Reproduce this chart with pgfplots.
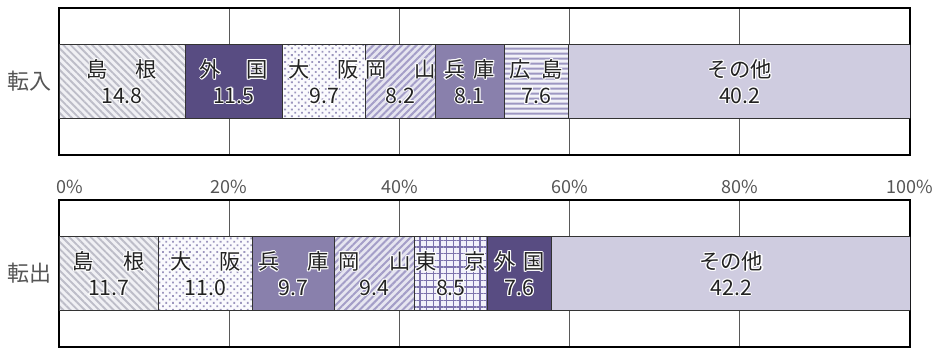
\documentclass[border=0pt]{standalone}
\usepackage{pgfplots}
\pgfplotsset{compat=1.18}
\usetikzlibrary{patterns.meta}
\usepackage{fontspec}
\setmainfont{Noto Sans CJK JP}
\definecolor{darkpur}{HTML}{584C82}
\definecolor{midpur}{HTML}{8980AC}
\definecolor{lightlav}{HTML}{CFCCE0}
\definecolor{hatchgray}{HTML}{BDBDC8}
\definecolor{dotcol}{HTML}{9C96BE}
\definecolor{okacol}{HTML}{A49EC8}
\definecolor{hirocol}{HTML}{9D97C2}
\definecolor{tokcol}{HTML}{7D74AD}
\definecolor{txt}{HTML}{222222}
\definecolor{ticktxt}{HTML}{555555}
\definecolor{bgshim}{HTML}{F0F0F4}
\definecolor{bgosa}{HTML}{FAFAFD}
\definecolor{bgoka}{HTML}{E6E5F0}
\definecolor{bghiro}{HTML}{F2F2F8}
\definecolor{bgtok}{HTML}{F2F2FA}
\newcommand\cp[3]{\rlap{\kern#1\raisebox{#2}{#3}}}
\newcommand\hl[1]{\leavevmode{\color{white}%
\cp{.8pt}{0pt}{#1}\cp{-.8pt}{0pt}{#1}\cp{0pt}{.8pt}{#1}\cp{0pt}{-.8pt}{#1}%
\cp{.55pt}{.55pt}{#1}\cp{-.55pt}{.55pt}{#1}\cp{.55pt}{-.55pt}{#1}\cp{-.55pt}{-.55pt}{#1}}%
\textcolor{txt}{#1}}
\tikzset{
  lab/.style={font=\fontsize{16}{19.5}\selectfont, align=center},
  shimane/.style={fill=bgshim, postaction={pattern={Lines[angle=-45, distance=3.8pt, line width=1.4pt]}, pattern color=hatchgray}},
  osaka/.style={fill=bgosa, postaction={pattern={Dots[angle=45, distance=3.6pt, radius=0.95pt]}, pattern color=dotcol}},
  okayama/.style={fill=bgoka, postaction={pattern={Lines[angle=45, distance=3.8pt, line width=1.5pt]}, pattern color=okacol}},
  hiroshima/.style={fill=bghiro, postaction={pattern={Lines[angle=0, distance=4pt, line width=1.8pt]}, pattern color=hirocol}},
  tokyo/.style={fill=bgtok, postaction={pattern={Hatch[angle=0, distance=5pt, line width=1.2pt]}, pattern color=tokcol}},
}
\pgfplotsset{
  barbase/.style={xbar stacked, scale only axis, width=638.25pt, height=110.25pt,
    xmin=0, xmax=100, ymin=0, ymax=1, bar width=0.503,
    xtick={0,20,40,60,80,100}, ytick={0.5},
    xmajorgrids, grid style={gray!70!black, line width=0.5pt},
    major tick length=0pt,
    axis line style={line width=1.6pt, black},
    yticklabel style={font=\fontsize{16.5}{18}\selectfont, text=ticktxt, xshift=-2pt},
    clip=true,
    every axis plot/.append style={draw=gray!40!black, line width=0.5pt},
  },
}
\begin{document}
\begin{tikzpicture}[x=1pt,y=1pt]
\path[use as bounding box] (0,0) rectangle (704.25,-260.25);
\clip (0,0) rectangle (704.25,-260.25);
% top: 転入
\begin{axis}[barbase, at={(44.25pt,-6pt)}, anchor=north west,
  xticklabels={}, yticklabels={転入},
  after end axis/.code={
    \node[lab] at (axis cs:7.4,0.5) {\hl{島\hspace{1.3em}根}\\\hl{14.8}};
    \node[lab] at (axis cs:20.55,0.5) {\hl{外\hspace{1.2em}国}\\\hl{11.5}};
    \node[lab] at (axis cs:31.15,0.5) {\hl{大\hspace{1.3em}阪}\\\hl{9.7}};
    \node[lab] at (axis cs:40.1,0.5) {\hl{岡\hspace{1.3em}山}\\\hl{8.2}};
    \node[lab] at (axis cs:48.25,0.5) {\hl{兵\hspace{0.4em}庫}\\\hl{8.1}};
    \node[lab] at (axis cs:56.1,0.5) {\hl{広\hspace{0.5em}島}\\\hl{7.6}};
    \node[lab] at (axis cs:80,0.5) {\hl{その他}\\\hl{40.2}};
  }]
\addplot[shimane] coordinates {(14.8,0.5)};
\addplot[fill=darkpur] coordinates {(11.5,0.5)};
\addplot[osaka] coordinates {(9.7,0.5)};
\addplot[okayama] coordinates {(8.2,0.5)};
\addplot[fill=midpur] coordinates {(8.1,0.5)};
\addplot[hiroshima] coordinates {(7.6,0.5)};
\addplot[fill=lightlav] coordinates {(40.2,0.5)};
\end{axis}
% bottom: 転出
\begin{axis}[barbase, at={(44.25pt,-150pt)}, anchor=north west,
  xticklabel pos=upper,
  xticklabels={\hspace{16pt}0\%,20\%,40\%,60\%,80\%,100\%\hspace{9pt}},
  xticklabel style={font=\fontsize{13.5}{16}\selectfont, text=ticktxt, yshift=1pt},
  yticklabels={転出},
  after end axis/.code={
    \node[lab] at (axis cs:5.85,0.5) {\hl{島\hspace{1.4em}根}\\\hl{11.7}};
    \node[lab] at (axis cs:17.2,0.5) {\hl{大\hspace{1.3em}阪}\\\hl{11.0}};
    \node[lab] at (axis cs:27.55,0.5) {\hl{兵\hspace{1.3em}庫}\\\hl{9.7}};
    \node[lab] at (axis cs:37.1,0.5) {\hl{岡\hspace{1.4em}山}\\\hl{9.4}};
    \node[lab] at (axis cs:46.05,0.5) {\hl{東\hspace{1.3em}京}\\\hl{8.5}};
    \node[lab] at (axis cs:54.1,0.5) {\hl{外\hspace{0.35em}国}\\\hl{7.6}};
    \node[lab] at (axis cs:79,0.5) {\hl{その他}\\\hl{42.2}};
  }]
\addplot[shimane] coordinates {(11.7,0.5)};
\addplot[osaka] coordinates {(11.0,0.5)};
\addplot[fill=midpur] coordinates {(9.7,0.5)};
\addplot[okayama] coordinates {(9.4,0.5)};
\addplot[tokyo] coordinates {(8.5,0.5)};
\addplot[fill=darkpur] coordinates {(7.6,0.5)};
\addplot[fill=lightlav] coordinates {(42.2,0.5)};
\end{axis}
\end{tikzpicture}
\end{document}
